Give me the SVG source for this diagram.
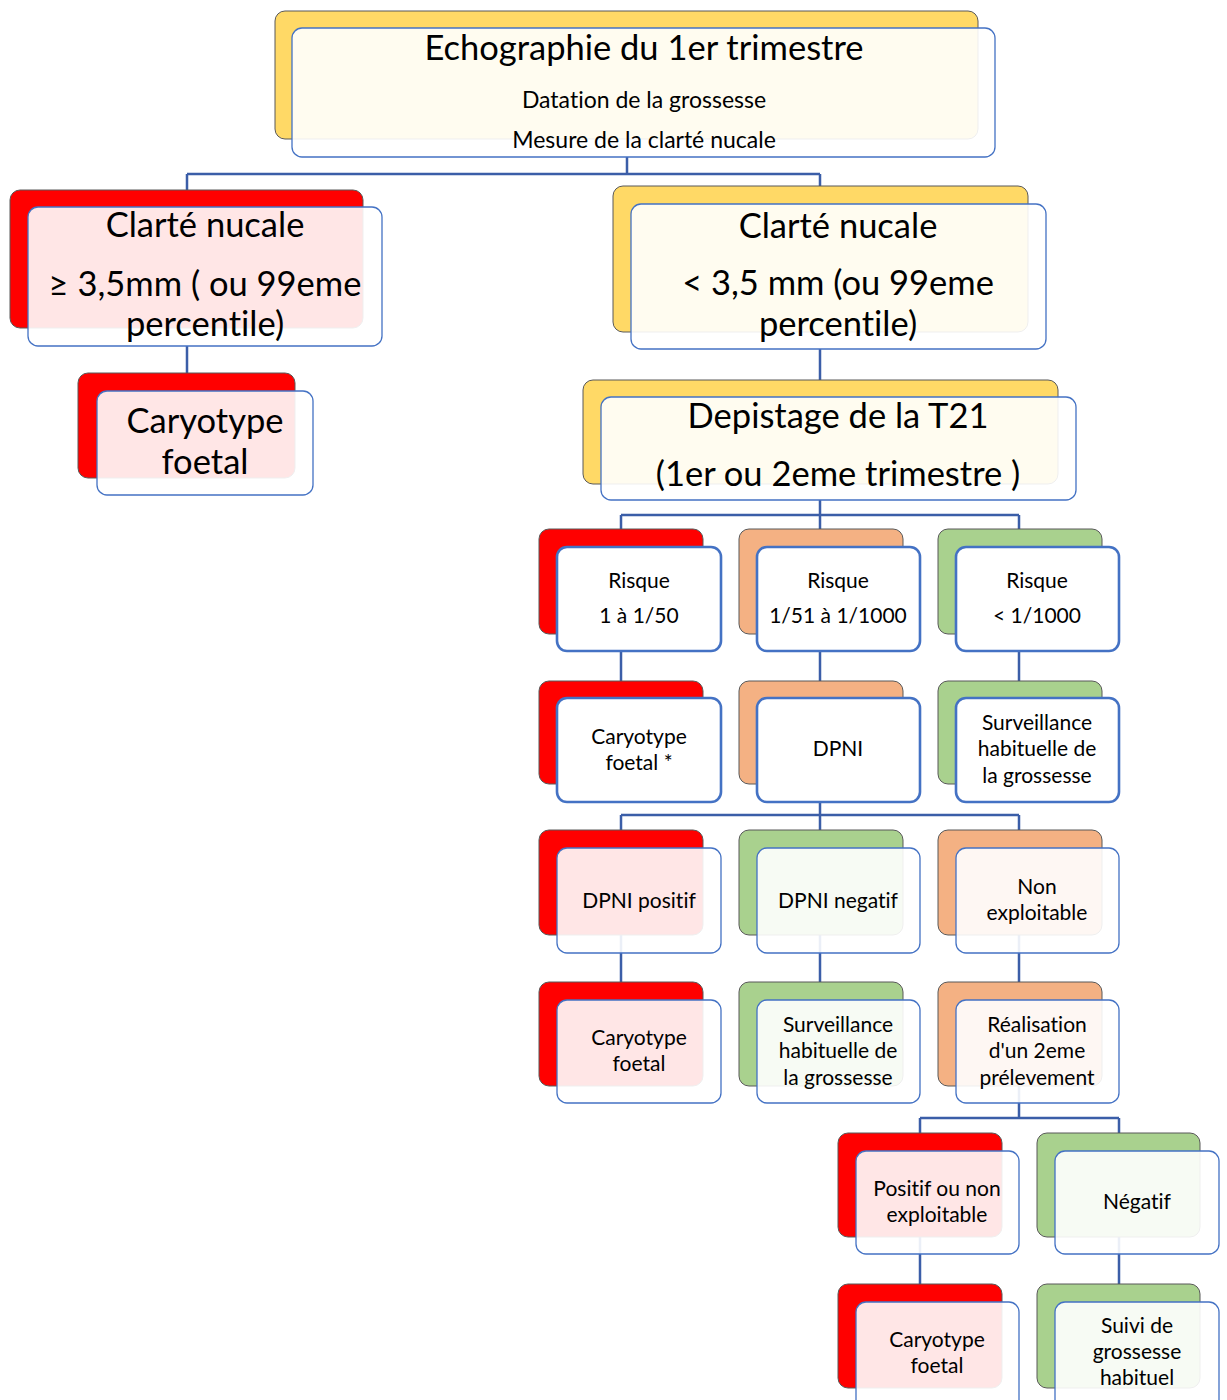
<svg xmlns="http://www.w3.org/2000/svg" width="1227" height="1400" viewBox="0 0 1227 1400">
<style>
.bk{stroke:#595959;stroke-width:1}
.red{fill:#FF0000}.yel{fill:#FFD966}.ora{fill:#F4B183}.grn{fill:#A9D18E}
.fr{fill:#FFFFFF;fill-opacity:0.9;stroke:#4472C4;stroke-width:1.3}
.fr2{fill:#FFFFFF;stroke:#4472C4;stroke-width:2.6}
.t{font-family:Lato,"Liberation Sans",sans-serif;fill:#000;text-anchor:middle;font-variant-ligatures:none;font-feature-settings:"liga" 0}
.xl{font-size:34.5px}.md{font-size:23px}.sm{font-size:21px}
.cn{fill:none;stroke:#3B5EA8;stroke-width:2.5}
</style>
<rect width="1227" height="1400" fill="#FFFFFF"/>
<g id="connectors">
<path class="cn" d="M627,157V174M187,174H820M187,174V190M820,174V186"/>
<path class="cn" d="M187,346V373M820,349V380"/>
<path class="cn" d="M820,500V515M621,515H1019M621,515V529M820,515V529M1019,515V529"/>
<path class="cn" d="M621,651V681M820,651V681M1019,651V681"/>
<path class="cn" d="M820,802V815M621,815H1019M621,815V830M820,815V830M1019,815V830"/>
<path class="cn" d="M621,935V982M820,935V982M1019,935V982"/>
<path class="cn" d="M1019,1086V1118M920,1118H1119M920,1118V1133M1119,1118V1133"/>
<path class="cn" d="M920,1237V1284M1119,1237V1284"/>
</g>
<g id="n-echo">
<rect class="bk yel" x="275" y="11" width="703" height="128" rx="10"/>
<rect class="fr" x="292" y="28" width="703" height="129" rx="10"/>
<text class="t xl" x="644" y="60">Echographie du 1er trimestre</text>
<text class="t md" x="644" y="108">Datation de la grossesse</text>
<text class="t md" x="644" y="148">Mesure de la clarté nucale</text>
</g>
<g id="n-cn-high">
<rect class="bk red" x="10" y="190" width="353" height="138" rx="10"/>
<rect class="fr" x="28" y="207" width="354" height="139" rx="10"/>
<text class="t xl" x="205" y="237">Clarté nucale</text>
<text class="t xl" x="205" y="296">≥ 3,5mm ( ou 99eme</text>
<text class="t xl" x="205" y="336">percentile)</text>
</g>
<g id="n-caryo-left">
<rect class="bk red" x="78" y="373" width="217" height="105" rx="10"/>
<rect class="fr" x="97" y="391" width="216" height="104" rx="10"/>
<text class="t xl" x="205" y="433">Caryotype</text>
<text class="t xl" x="205" y="474">foetal</text>
</g>
<g id="n-cn-low">
<rect class="bk yel" x="613" y="186" width="415" height="146" rx="10"/>
<rect class="fr" x="631" y="204" width="415" height="145" rx="10"/>
<text class="t xl" x="838" y="238">Clarté nucale</text>
<text class="t xl" x="838" y="295">&lt; 3,5 mm (ou 99eme</text>
<text class="t xl" x="838" y="336">percentile)</text>
</g>
<g id="n-depistage">
<rect class="bk yel" x="583" y="380" width="475" height="104" rx="10"/>
<rect class="fr" x="601" y="397" width="475" height="103" rx="10"/>
<text class="t xl" x="838" y="428">Depistage de la T21</text>
<text class="t xl" x="838" y="486">(1er ou 2eme trimestre )</text>
</g>
<g id="n-risk1">
<rect class="bk red" x="539" y="529" width="164" height="105" rx="10"/>
<rect class="fr2" x="557" y="547" width="164" height="104" rx="10"/>
<text class="t sm" x="639" y="588">Risque</text>
<text class="t sm" x="639" y="623">1 à 1/50</text>
</g>
<g id="n-risk2">
<rect class="bk ora" x="739" y="529" width="164" height="105" rx="10"/>
<rect class="fr2" x="757" y="547" width="163" height="104" rx="10"/>
<text class="t sm" x="838" y="588">Risque</text>
<text class="t sm" x="838" y="623">1/51 à 1/1000</text>
</g>
<g id="n-risk3">
<rect class="bk grn" x="938" y="529" width="164" height="105" rx="10"/>
<rect class="fr2" x="956" y="547" width="163" height="104" rx="10"/>
<text class="t sm" x="1037" y="588">Risque</text>
<text class="t sm" x="1037" y="623">&lt; 1/1000</text>
</g>
<g id="n-caryo-star">
<rect class="bk red" x="539" y="681" width="164" height="103" rx="10"/>
<rect class="fr2" x="557" y="698" width="164" height="104" rx="10"/>
<text class="t sm" x="639" y="744">Caryotype</text>
<text class="t sm" x="639" y="770">foetal *</text>
</g>
<g id="n-dpni">
<rect class="bk ora" x="739" y="681" width="164" height="103" rx="10"/>
<rect class="fr2" x="757" y="698" width="163" height="104" rx="10"/>
<text class="t sm" x="838" y="756">DPNI</text>
</g>
<g id="n-surv1">
<rect class="bk grn" x="938" y="681" width="164" height="103" rx="10"/>
<rect class="fr2" x="956" y="698" width="163" height="104" rx="10"/>
<text class="t sm" x="1037" y="730">Surveillance</text>
<text class="t sm" x="1037" y="756">habituelle de</text>
<text class="t sm" x="1037" y="783">la grossesse</text>
</g>
<g id="n-dpni-pos">
<rect class="bk red" x="539" y="830" width="164" height="105" rx="10"/>
<rect class="fr" x="557" y="848" width="164" height="105" rx="10"/>
<text class="t sm" x="639" y="908">DPNI positif</text>
</g>
<g id="n-dpni-neg">
<rect class="bk grn" x="739" y="830" width="164" height="105" rx="10"/>
<rect class="fr" x="757" y="848" width="163" height="105" rx="10"/>
<text class="t sm" x="838" y="908">DPNI negatif</text>
</g>
<g id="n-nonexpl">
<rect class="bk ora" x="938" y="830" width="164" height="105" rx="10"/>
<rect class="fr" x="956" y="848" width="163" height="105" rx="10"/>
<text class="t sm" x="1037" y="894">Non</text>
<text class="t sm" x="1037" y="920">exploitable</text>
</g>
<g id="n-caryo-pos">
<rect class="bk red" x="539" y="982" width="164" height="104" rx="10"/>
<rect class="fr" x="557" y="1000" width="164" height="103" rx="10"/>
<text class="t sm" x="639" y="1045">Caryotype</text>
<text class="t sm" x="639" y="1071">foetal</text>
</g>
<g id="n-surv2">
<rect class="bk grn" x="739" y="982" width="164" height="104" rx="10"/>
<rect class="fr" x="757" y="1000" width="163" height="103" rx="10"/>
<text class="t sm" x="838" y="1032">Surveillance</text>
<text class="t sm" x="838" y="1058">habituelle de</text>
<text class="t sm" x="838" y="1085">la grossesse</text>
</g>
<g id="n-realisation">
<rect class="bk ora" x="938" y="982" width="164" height="104" rx="10"/>
<rect class="fr" x="956" y="1000" width="163" height="103" rx="10"/>
<text class="t sm" x="1037" y="1032">Réalisation</text>
<text class="t sm" x="1037" y="1058">d'un 2eme</text>
<text class="t sm" x="1037" y="1085">prélevement</text>
</g>
<g id="n-pos-nonexpl">
<rect class="bk red" x="838" y="1133" width="164" height="104" rx="10"/>
<rect class="fr" x="856" y="1151" width="163" height="103" rx="10"/>
<text class="t sm" x="937" y="1196">Positif ou non</text>
<text class="t sm" x="937" y="1222">exploitable</text>
</g>
<g id="n-negatif">
<rect class="bk grn" x="1037" y="1133" width="163" height="104" rx="10"/>
<rect class="fr" x="1055" y="1151" width="164" height="103" rx="10"/>
<text class="t sm" x="1137" y="1209">Négatif</text>
</g>
<g id="n-caryo-final">
<rect class="bk red" x="838" y="1284" width="164" height="104" rx="10"/>
<rect class="fr" x="856" y="1302" width="163" height="110" rx="10"/>
<text class="t sm" x="937" y="1347">Caryotype</text>
<text class="t sm" x="937" y="1373">foetal</text>
</g>
<g id="n-suivi">
<rect class="bk grn" x="1037" y="1284" width="163" height="104" rx="10"/>
<rect class="fr" x="1055" y="1302" width="164" height="110" rx="10"/>
<text class="t sm" x="1137" y="1333">Suivi de</text>
<text class="t sm" x="1137" y="1359">grossesse</text>
<text class="t sm" x="1137" y="1385">habituel</text>
</g>
</svg>
